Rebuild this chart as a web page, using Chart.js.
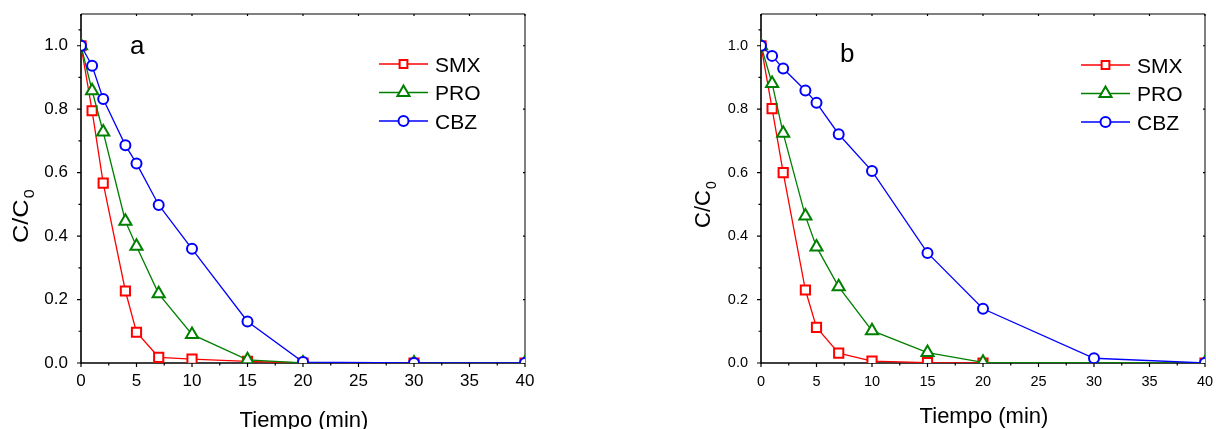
<!DOCTYPE html>
<html>
<head>
<meta charset="utf-8">
<script src="https://cdn.jsdelivr.net/npm/chart.js@4/dist/chart.umd.min.js"></script>
<style>
  body { margin: 0; background: #fff; }
  .panel { position: absolute; top: 0; height: 429px; }
  #panel-a { left: 0; width: 600px; }
  #panel-b { left: 680px; width: 536px; }
</style>
</head>
<body>
<div class="panel" id="panel-a"><canvas id="chart-a"></canvas></div>
<div class="panel" id="panel-b"><canvas id="chart-b"></canvas></div>
<script>
// sampling times (min)
const times = [0, 1, 2, 4, 5, 7, 10, 15, 20, 30, 40];

// panel a
const smxA = [1.0, 0.795, 0.567, 0.227, 0.097, 0.018, 0.012, 0.005, 0, 0, 0];
const proA = [1.0, 0.858, 0.728, 0.447, 0.368, 0.218, 0.09, 0.01, 0, 0, 0];
const cbzA = [1.0, 0.937, 0.832, 0.686, 0.629, 0.498, 0.36, 0.131, 0.003, 0, 0];

// panel b (no SMX / PRO sample at 30 min)
const smxB = [1.0, 0.802, 0.6, 0.23, 0.112, 0.031, 0.006, 0.001, 0, null, 0];
const proB = [1.0, 0.881, 0.724, 0.463, 0.366, 0.24, 0.102, 0.033, 0.002, null, 0];
const cbzB = [1.0, 0.968, 0.928, 0.859, 0.82, 0.721, 0.605, 0.347, 0.171, 0.015, 0];

const seriesNames = ['SMX', 'PRO', 'CBZ'];
const xTicks = [0, 5, 10, 15, 20, 25, 30, 35, 40];
const yTicks = [0, 0.2, 0.4, 0.6, 0.8, 1.0];
const yTickLabels = ['0.0', '0.2', '0.4', '0.6', '0.8', '1.0'];

const FONT = '"Liberation Sans", Arial, sans-serif';
const styles = [
  { color: '#ff0000', pointStyle: 'rect', radius: 6.5, legendRadius: 5.5 },
  { color: '#008000', pointStyle: 'triangle', radius: 7, legendRadius: 7 },
  { color: '#0000ff', pointStyle: 'circle', radius: 5, legendRadius: 5 },
];

function toPoints(values) {
  const pts = [];
  values.forEach((v, i) => {
    if (v !== null) pts.push({ x: times[i], y: v });
  });
  return pts;
}

// axis frame + in/out ticks, drawn under the markers
const framePlugin = {
  id: 'frame',
  beforeDatasetsDraw(chart) {
    const { ctx, chartArea: a, scales: { x, y } } = chart;
    ctx.save();
    ctx.strokeStyle = '#000';

    ctx.lineWidth = 1;
    ctx.beginPath();
    ctx.moveTo(a.left, a.top);
    ctx.lineTo(a.right, a.top);
    ctx.lineTo(a.right, a.bottom);
    ctx.stroke();

    ctx.lineWidth = 1.6;
    ctx.beginPath();
    ctx.moveTo(a.left, a.top);
    ctx.lineTo(a.left, a.bottom);
    ctx.lineTo(a.right, a.bottom);
    ctx.stroke();

    ctx.lineWidth = 1.2;
    ctx.beginPath();
    xTicks.forEach((v, i) => {
      const px = x.getPixelForValue(v);
      ctx.moveTo(px, a.bottom);
      ctx.lineTo(px, a.bottom + 4);
      ctx.moveTo(px, a.top);
      ctx.lineTo(px, a.top + 2);
      if (i < xTicks.length - 1) {
        const mx = x.getPixelForValue((v + xTicks[i + 1]) / 2);
        ctx.moveTo(mx, a.bottom);
        ctx.lineTo(mx, a.bottom + 2.5);
      }
    });
    yTicks.forEach((v, i) => {
      const py = y.getPixelForValue(v);
      ctx.moveTo(a.left, py);
      ctx.lineTo(a.left - 4, py);
      ctx.moveTo(a.right, py);
      ctx.lineTo(a.right - 2, py);
      const next = i < yTicks.length - 1 ? yTicks[i + 1] : 1.1;
      const my = y.getPixelForValue((v + Math.min(next, v + 0.2)) / 2);
      ctx.moveTo(a.left, my);
      ctx.lineTo(a.left - 2.5, my);
    });
    ctx.stroke();
    ctx.restore();
  },
  afterDraw(chart, args, opts) {
    const { ctx, chartArea: a } = chart;
    ctx.save();
    ctx.fillStyle = '#000';

    // panel letter
    ctx.font = `26px ${FONT}`;
    ctx.textBaseline = 'alphabetic';
    ctx.fillText(opts.letter, opts.letterX, opts.letterY);

    // x title
    ctx.font = `22px ${FONT}`;
    ctx.textAlign = 'center';
    ctx.fillText('Tiempo (min)', (a.left + a.right) / 2 + 1, opts.xTitleY);

    // y title C/C0 with subscript
    ctx.translate(opts.yTitleX, opts.yTitleY);
    ctx.rotate(-Math.PI / 2);
    ctx.scale(opts.yTitleStretch, 1);
    ctx.textAlign = 'left';
    ctx.font = `22px ${FONT}`;
    ctx.fillText('C/C', 0, 0);
    const w = ctx.measureText('C/C').width;
    ctx.font = `14px ${FONT}`;
    ctx.fillText('0', w + 1, 6);
    ctx.restore();

    // legend
    const lg = opts.legend;
    chart.data.datasets.forEach((ds, i) => {
      const st = styles[i];
      const ly = lg.y + i * lg.dy;
      ctx.save();
      ctx.strokeStyle = st.color;
      ctx.lineWidth = 1.3;
      ctx.beginPath();
      ctx.moveTo(lg.x, ly);
      ctx.lineTo(lg.x + lg.len, ly);
      ctx.stroke();
      ctx.fillStyle = '#fff';
      ctx.lineWidth = 2;
      Chart.helpers.drawPoint(ctx, {
        pointStyle: st.pointStyle,
        radius: st.legendRadius,
        borderWidth: 2,
        rotation: 0,
      }, lg.x + lg.len / 2, ly);
      ctx.fillStyle = '#000';
      ctx.font = `21px ${FONT}`;
      ctx.textBaseline = 'alphabetic';
      ctx.fillText(ds.label, lg.x + lg.len + 7, ly + 7.5);
      ctx.restore();
    });
  },
};

function createPanel(canvasId, data, opts) {
  const datasets = data.map((values, i) => ({
    label: seriesNames[i],
    data: toPoints(values),
    borderColor: styles[i].color,
    backgroundColor: '#fff',
    borderWidth: 1.3,
    pointStyle: styles[i].pointStyle,
    pointRadius: styles[i].radius,
    pointBorderWidth: 2,
    pointBorderColor: styles[i].color,
    pointBackgroundColor: '#fff',
    tension: 0,
    order: 2 - i,
  }));

  return new Chart(document.getElementById(canvasId), {
    type: 'line',
    data: { datasets: datasets },
    options: {
      responsive: true,
      maintainAspectRatio: false,
      animation: false,
      layout: {
        padding: { left: 0, right: opts.padRight, top: 14, bottom: 0 },
      },
      plugins: {
        legend: { display: false },
        tooltip: { enabled: false },
        frame: opts,
      },
      scales: {
        x: {
          type: 'linear',
          min: 0,
          max: 40,
          grid: { display: false, drawTicks: false },
          border: { display: false },
          afterBuildTicks: (scale) => {
            scale.ticks = xTicks.map((v) => ({ value: v }));
          },
          afterFit: (scale) => {
            scale.height = 66;
            scale.paddingLeft = 0;
            scale.paddingRight = 0;
          },
          ticks: {
            padding: opts.xTickPad,
            color: '#000',
            maxRotation: 0,
            font: { family: FONT, size: opts.tickSize },
            callback: (v) => String(v),
          },
        },
        y: {
          type: 'linear',
          min: 0,
          max: 1.1,
          grid: { display: false, drawTicks: false },
          border: { display: false },
          afterBuildTicks: (scale) => {
            scale.ticks = yTicks.map((v) => ({ value: v }));
          },
          afterFit: (scale) => {
            scale.width = opts.yAxisWidth;
            scale.paddingTop = 0;
            scale.paddingBottom = 0;
          },
          ticks: {
            padding: opts.yTickPad,
            color: '#000',
            font: { family: FONT, size: opts.tickSize },
            callback: (v) => yTickLabels[yTicks.indexOf(v)] ?? '',
          },
        },
      },
    },
    plugins: [framePlugin],
  });
}

// coordinates below are relative to each panel's canvas
createPanel('chart-a', [smxA, proA, cbzA], {
  letter: 'a', letterX: 130, letterY: 54,
  padRight: 75, yAxisWidth: 81, tickSize: 17, xTickPad: 8, yTickPad: 13,
  xTitleY: 427, yTitleX: 28, yTitleY: 243, yTitleStretch: 1.15,
  legend: { x: 379, y: 64, dy: 28.5, len: 49 },
});

createPanel('chart-b', [smxB, proB, cbzB], {
  letter: 'b', letterX: 160, letterY: 62,
  padRight: 11, yAxisWidth: 81, tickSize: 14.5, xTickPad: 10, yTickPad: 13,
  xTitleY: 423, yTitleX: 30, yTitleY: 228, yTitleStretch: 1.0,
  legend: { x: 401, y: 65, dy: 28.5, len: 49 },
});
</script>
</body>
</html>
